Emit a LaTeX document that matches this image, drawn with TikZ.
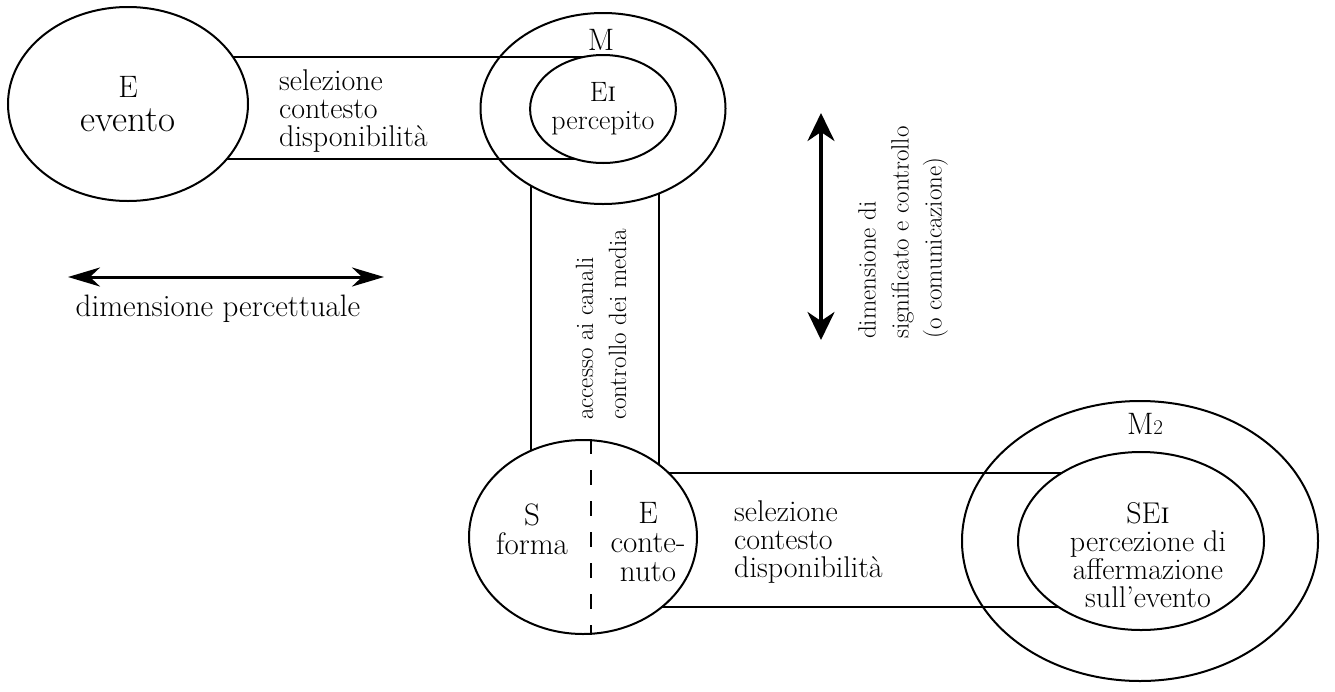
\documentclass[tikz,border=0pt]{standalone}
\usepackage{fontspec}
\usetikzlibrary{shapes.geometric,arrows.meta}
\pgfdeclarelayer{vlines}
\pgfdeclarelayer{mfill}
\pgfdeclarelayer{hlines}
\pgfsetlayers{vlines,mfill,hlines,main}
\newcommand{\subone}{\textsc{i}}
\newcommand{\subtwo}{{\fontsize{21}{21}\selectfont 2}}
\begin{document}
\begin{tikzpicture}[x=1pt,y=-1pt,
  ell/.style={ellipse, draw, line width=2pt, inner sep=0pt, fill=white},
  ring/.style={ellipse, draw, line width=2pt, inner sep=0pt},
  band/.style={line width=2pt},
  lbl/.style={font=\fontsize{31}{29}\selectfont, align=center, inner sep=0pt},
  lbll/.style={font=\fontsize{30}{28}\selectfont, align=left, inner sep=0pt, anchor=west},
  rot/.style={font=\fontsize{25}{33}\selectfont, align=left, inner sep=0pt, anchor=west, rotate=90},
  harrow/.style={line width=3pt, {Stealth[length=32pt,width=19pt,inset=10pt]}-{Stealth[length=32pt,width=19pt,inset=10pt]}},
  varrow/.style={line width=3.5pt, {Stealth[length=28pt,width=27pt,inset=9pt]}-{Stealth[length=28pt,width=27pt,inset=9pt]}},
  dashline/.style={line width=2.5pt, dash pattern=on 15pt off 16pt}]
\useasboundingbox (0,0) rectangle (1335,691);

% outer ellipse M (filled, below horizontal band lines)
\begin{pgfonlayer}{mfill}
\node[ell, minimum width=245pt, minimum height=191pt] (M) at (603,108.5) {};
\end{pgfonlayer}

% main ellipses
\node[ell, minimum width=240pt, minimum height=194pt, align=center, font=\fontsize{31}{34}\selectfont] (E) at (128,104)
  {E\\{\fontsize{37}{34}\selectfont evento}};
\node[ell, minimum width=138pt, minimum height=108pt, font=\fontsize{28}{28}\selectfont, align=center] (E1) at (603,109) {E\subone\\percepito};
\node[ell, minimum width=228pt, minimum height=194pt] (SE) at (583,537) {};
\node[ring, minimum width=356pt, minimum height=280pt] (M2) at (1140,541) {};
\node[ell, minimum width=246pt, minimum height=178pt] (SE1) at (1141,541) {};

% band guide coordinates
\coordinate (t1) at (0,57);
\coordinate (t2) at (0,159);
\coordinate (v1) at (531,0);
\coordinate (v2) at (659,0);
\coordinate (b1) at (0,473);
\coordinate (b2) at (0,607);

\begin{pgfonlayer}{vlines}
\draw[band] (M.center -| v1) -- (SE.center -| v1);
\draw[band] (M.center -| v2) -- (SE.center -| v2);
\end{pgfonlayer}
\begin{pgfonlayer}{hlines}
\draw[band] (E.center |- t1) -- (E1.center |- t1);
\draw[band] (E.center |- t2) -- (E1.center |- t2);
\draw[band] (SE.center |- b1) -- (SE1.center |- b1);
\draw[band] (SE.center |- b2) -- (SE1.center |- b2);
\end{pgfonlayer}

% dashed divider
\draw[dashline] ([xshift=8pt]SE.north) -- ([xshift=8pt]SE.south);

% labels
\node[lbl] (Mlab) at (601,40) {M};
\node[lbl] (M2lab) at (1145,424) {M\subtwo};
\node[lbll] (sel1) at (279,111) {selezione\\contesto\\disponibilità};
\node[lbll] (sel2) at (734,542) {selezione\\contesto\\disponibilità};
\node[lbl] (Sf) at (532,529) {S\\forma};
\node[lbl] (Ec) at (648,542) {E\\conte-\\nuto};
\node[lbl, font=\fontsize{30}{28}\selectfont] (SEt) at (1148,555) {SE\subone\\percezione di\\affermazione\\sull'evento};

\node[rot] (acc) at (601,420) {accesso ai canali\\controllo dei media};
\node[rot] (dim) at (903,339) {dimensione di\\significato e controllo\\(o comunicazione)};

% dimension arrows
\coordinate (ha) at (68,277);
\coordinate (hb) at (384,277);
\draw[harrow] (ha) -- (hb);
\node[lbl] (hlab) at (218,309) {dimensione percettuale};
\coordinate (va) at (821,113);
\coordinate (vb) at (821,340);
\draw[varrow] (va) -- (vb);
\end{tikzpicture}
\end{document}
